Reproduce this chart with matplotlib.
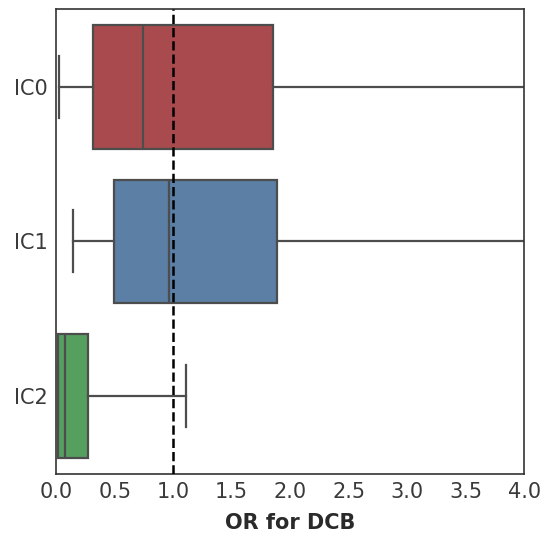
import matplotlib
matplotlib.use("Agg")
import matplotlib.pyplot as plt

labels = ["IC0", "IC1", "IC2"]
whislo = [0.02, 0.145, 0.015]
q1 = [0.31, 0.49, 0.015]
med = [0.74, 0.965, 0.075]
q3 = [1.855, 1.89, 0.27]
whishi = [6.0, 6.0, 1.11]
colors = ["#a94b4e", "#5b7fa5", "#55a05f"]

stats = []
for i in range(len(labels)):
    stats.append(dict(label=labels[i], whislo=whislo[i], q1=q1[i], med=med[i],
                      q3=q3[i], whishi=whishi[i], fliers=[]))

fig = plt.figure(figsize=(5.46, 5.36), dpi=100)
ax = fig.add_axes([0.103, 0.116, 0.857, 0.867])

gray = "#4d4d4d"
bp = ax.bxp(stats, positions=range(len(labels)), vert=False, widths=0.8,
            patch_artist=True, showfliers=False,
            boxprops=dict(edgecolor=gray, linewidth=1.6),
            medianprops=dict(color=gray, linewidth=1.6),
            whiskerprops=dict(color=gray, linewidth=1.6),
            capprops=dict(color=gray, linewidth=1.6))
for patch, c in zip(bp["boxes"], colors):
    patch.set_facecolor(c)

ax.axvline(1.0, color="black", linestyle="--", linewidth=1.8, zorder=5)

ax.set_xlim(0, 4)
ax.set_ylim(2.5, -0.5)
ax.set_xticks([0, 0.5, 1.0, 1.5, 2.0, 2.5, 3.0, 3.5, 4.0])
ax.set_xticklabels(["0.0", "0.5", "1.0", "1.5", "2.0", "2.5", "3.0", "3.5", "4.0"])
ax.set_yticks(range(len(labels)))
ax.set_yticklabels(labels)
ax.tick_params(labelsize=15, colors="#3a3a3a", length=0, pad=6)
ax.set_xlabel("OR for DCB", fontsize=15, fontweight="bold", color="#2a2a2a", labelpad=8)
for s in ax.spines.values():
    s.set_color("#333333")
    s.set_linewidth(1.2)

fig.savefig("out.png", dpi=100)
